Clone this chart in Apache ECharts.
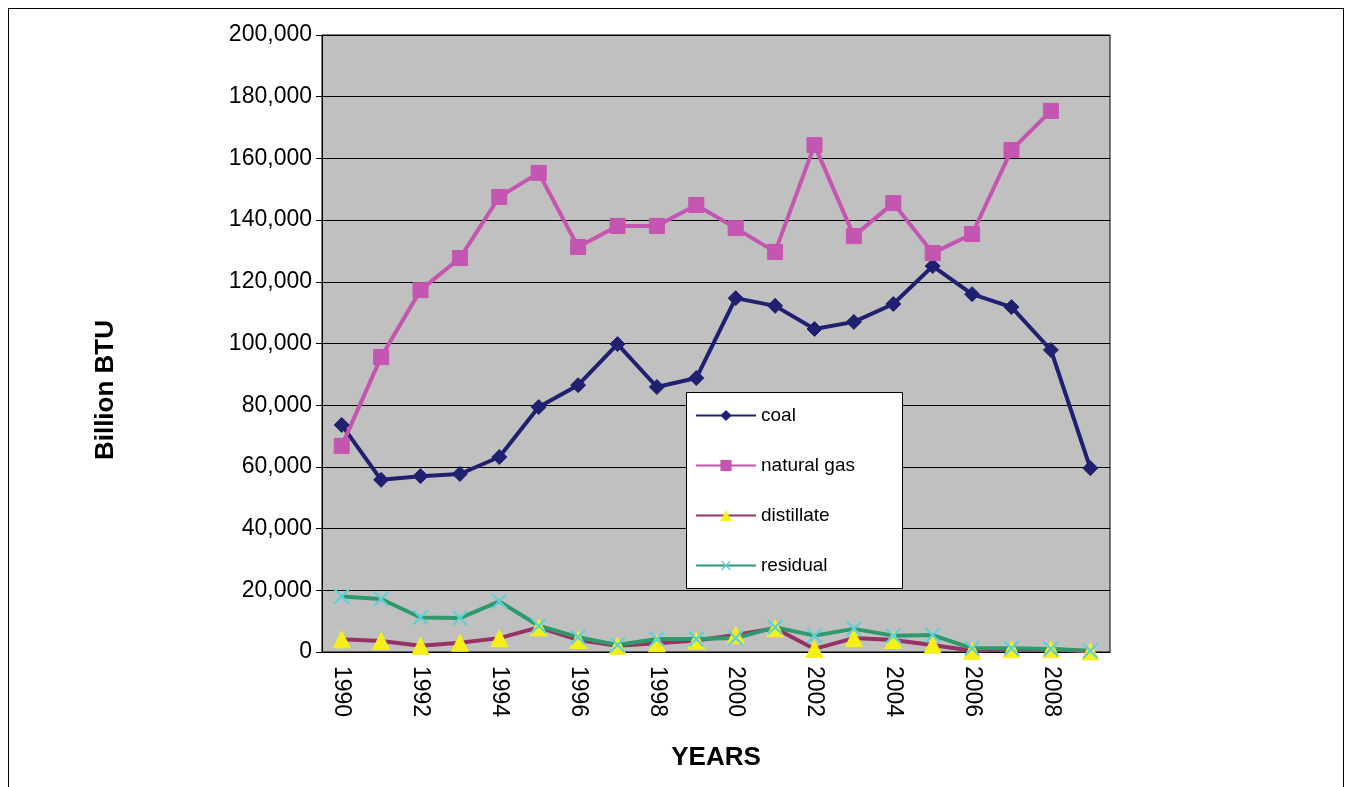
<!DOCTYPE html>
<html><head><meta charset="utf-8">
<script src="https://cdn.jsdelivr.net/npm/echarts@6/dist/echarts.min.js"></script>
<style>html,body{margin:0;background:#fff}#c{width:1351px;height:787px}
#f{position:absolute;left:8px;top:8px;width:1334px;height:790px;border:1.5px solid #000;pointer-events:none}</style>
</head><body><div id="c"></div><div id="f"></div>
<script>
var years = ['1990','1991','1992','1993','1994','1995','1996','1997','1998','1999','2000','2001','2002','2003','2004','2005','2006','2007','2008','2009'];
var coal = [73600,55800,57000,57700,63200,79400,86500,99800,85900,88800,114700,112200,104700,107000,112800,125100,116000,111800,97900,59600];
var naturalGas = [66800,95600,117300,127700,147500,155300,131300,138100,138100,144900,137400,129700,164300,134800,145500,129300,135500,162700,175400,null];
var distillate = [4100,3600,2000,3000,4500,8000,3900,2000,2800,3700,5500,7700,1000,4500,3900,2300,400,900,900,200];
var residual = [18000,17200,11200,11000,16400,8500,4800,2300,4200,4200,4500,8000,5300,7500,5300,5500,1200,1200,1000,400];

var chart = echarts.init(document.getElementById('c'));
function ser(name, data, line, sym, symColor, size) {
  return {name: name, type: 'line', data: data, symbol: sym, symbolSize: size,
    lineStyle: {color: line, width: 4}, itemStyle: {color: symColor, borderColor: symColor},
    showAllSymbol: true, animation: false};
}
chart.setOption({
  textStyle: {fontFamily: 'Arial, Liberation Sans'},
  grid: {left: 322, right: 241, top: 35, bottom: 135, show: true, backgroundColor: '#c0c0c0', borderColor: '#000', borderWidth: 1},
  graphic: [
    {type: 'rect', left: 686, top: 392, z: 1, shape: {width: 216, height: 196},
      style: {fill: '#fff', stroke: '#000', lineWidth: 1}},
    {type: 'text', left: 93, top: 320, rotation: Math.PI / 2, z: 10,
      style: {text: 'Billion BTU', font: 'bold 26px Arial', fill: '#000'}}
  ],
  legend: {
    orient: 'vertical', left: 695, top: 406, z: 5,
    padding: 0, itemGap: 31, itemWidth: 60, itemHeight: 14,
    textStyle: {fontSize: 19, color: '#000'},
    data: ['coal', 'natural gas', 'distillate', 'residual']
  },
  xAxis: {
    type: 'category', data: years, boundaryGap: true,
    name: 'YEARS', nameLocation: 'middle', nameGap: 93,
    nameTextStyle: {fontSize: 26, fontWeight: 'bold', color: '#000'},
    axisLine: {lineStyle: {color: '#000'}},
    axisTick: {length: 10, interval: 0, lineStyle: {color: '#000'}},
    axisLabel: {interval: 1, rotate: -90, fontSize: 23, color: '#000', margin: 14}
  },
  yAxis: {
    type: 'value', min: 0, max: 200000, interval: 20000,
    axisLine: {show: true, lineStyle: {color: '#000'}},
    axisTick: {show: true, length: 6, lineStyle: {color: '#000'}},
    splitLine: {lineStyle: {color: '#000', width: 1}},
    axisLabel: {fontSize: 23, color: '#000', margin: 10,
      formatter: function (v) { return v.toLocaleString('en-US'); }}
  },
  series: [
    ser('coal', coal, '#202070', 'diamond', '#202070', 15),
    ser('natural gas', naturalGas, '#c455b0', 'rect', '#c455b0', 15),
    ser('distillate', distillate, '#963266', 'triangle', '#f5ef1a', 17),
    ser('residual', residual, '#2e9a6c', 'image://data:image/svg+xml;utf8,' + encodeURIComponent('<svg xmlns="http://www.w3.org/2000/svg" width="20" height="20"><path d="M2 2L18 18M18 2L2 18" stroke="#5fd0d6" stroke-width="2.5"/></svg>'), '#5fd0d6', 18)
  ]
});
</script></body></html>
